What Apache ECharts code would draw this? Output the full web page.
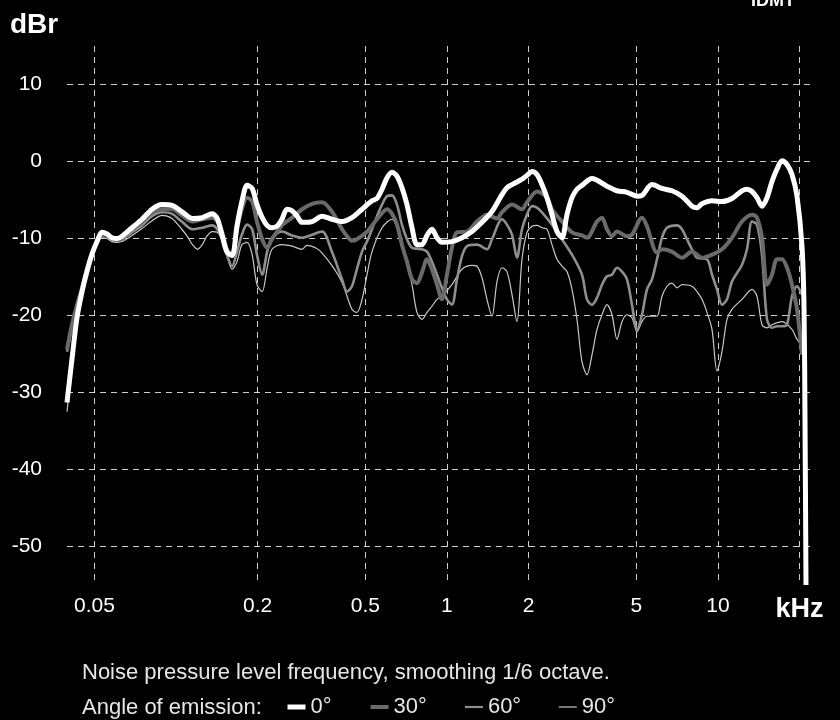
<!DOCTYPE html>
<html>
<head>
<meta charset="utf-8">
<script src="https://cdn.jsdelivr.net/npm/echarts@6.0.0/dist/echarts.min.js"></script>
<style>
html, body { margin: 0; padding: 0; background: #000; }
#chart { width: 840px; height: 720px; }
</style>
</head>
<body>
<div id="chart"></div>
<script>
var chart = echarts.init(document.getElementById('chart'));
var FONT = '"Liberation Sans", Arial, sans-serif';

// frequency in Hz, level in dBr
var freq0 = [39.6, 41.3, 43.1, 45, 46.9, 48.9, 51.1, 53.3, 55.6, 58, 60.6, 63.2, 68.8, 74.9, 81.6, 88.8, 96.7, 105, 115, 125,
  136, 142, 148, 154, 161, 168, 175, 183, 191, 199, 208, 217, 226, 236, 246, 257, 268, 280, 292, 318,
  346, 376, 410, 446, 486, 529, 552, 576, 601, 627, 654, 682, 712, 743, 775, 809, 844, 880, 919, 958,
  1043, 1136, 1237, 1347, 1466, 1596, 1665, 1738, 1892, 1974, 2060, 2149, 2242, 2340, 2441, 2547, 2658, 2773, 2894, 3019,
  3150, 3430, 3896, 4242, 4618, 5028, 5246, 5711, 6218, 6769, 7370, 8023, 8372, 8735, 9510, 10353, 11271, 12271, 12804, 13359,
  13940, 14545, 15177, 15835, 16523, 17240, 17989, 18769, 19585, 20433, 20786, 20963, 21142];
var level0 = [-31.3, -25.7, -20.3, -16.9, -14.3, -12.1, -10.4, -9.2, -9.4, -9.9, -10.0, -9.7, -8.6, -7.5, -6.2, -5.6, -5.7, -6.5, -7.4, -7.3,
  -6.8, -7.4, -9.6, -11.7, -12.2, -8.3, -5.2, -3.1, -3.5, -5.6, -7.3, -8.3, -8.6, -8.4, -7.5, -6.2, -6.4, -7.1, -7.9, -7.8,
  -7.1, -7.5, -7.8, -7.3, -6.2, -5.1, -4.8, -3.6, -2.1, -1.4, -1.9, -3.4, -5.6, -8.6, -10.8, -10.8, -9.6, -8.8, -9.9, -10.5,
  -10.4, -9.9, -9.1, -7.9, -6.5, -4.3, -3.4, -3.0, -2.3, -1.8, -1.3, -1.7, -3.0, -4.7, -6.9, -9.1, -9.9, -6.9, -4.7, -3.6,
  -3.1, -2.2, -3.2, -3.8, -4.0, -4.5, -4.4, -3.0, -3.5, -3.8, -4.5, -5.8, -6.0, -5.5, -5.1, -5.2, -4.8, -3.8, -3.6, -3.9,
  -4.7, -5.8, -4.7, -2.6, -1.0, 0.1, -0.4, -1.7, -4.5, -11.0, -18.8, -33.5, -55];

var freq30 = [39.6, 41.3, 43.1, 45, 46.9, 48.9, 51.1, 53.3, 55.6, 58, 60.6, 63.2, 68.8, 74.9, 81.6, 88.8, 96.7, 105, 115, 125,
  136, 142, 148, 154, 161, 168, 175, 183, 191, 199, 208, 217, 226, 246, 268, 292, 318, 346, 376, 410,
  428, 446, 465, 507, 552, 601, 627, 654, 682, 712, 743, 775, 809, 844, 880, 919, 958, 1000, 1043, 1089,
  1185, 1291, 1405, 1530, 1596, 1738, 1892, 1974, 2149, 2340, 2441, 2658, 2894, 3150, 3287, 3579, 3734, 3896, 4065, 4242,
  4618, 4818, 5246, 5473, 5959, 6218, 6769, 7370, 8023, 8735, 9510, 10353, 11271, 12271, 13359, 13940, 14545, 15177, 15835, 16523,
  17240, 17989, 18769, 19585, 20433];
var level30 = [-24.4, -21.2, -18.6, -16.4, -14.0, -12.1, -10.5, -9.5, -9.6, -10.0, -10.1, -9.9, -8.8, -7.8, -6.6, -6.2, -6.2, -7.0, -7.8, -7.5,
  -7.3, -7.8, -9.1, -11.4, -12.3, -8.8, -6.2, -4.7, -5.2, -7.8, -10.1, -11.2, -10.1, -8.3, -7.3, -6.2, -5.5, -5.3, -6.5, -8.8,
  -9.7, -10.3, -10.1, -9.1, -7.5, -6.2, -6.8, -8.2, -10.8, -13.0, -15.3, -15.8, -14.4, -12.7, -14.0, -16.0, -17.9, -14.7, -11.2, -9.2,
  -9.1, -7.8, -6.9, -7.4, -6.6, -5.6, -6.2, -5.3, -3.9, -4.7, -6.2, -7.8, -9.2, -9.6, -9.9, -7.8, -7.3, -8.8, -9.7, -9.1,
  -9.7, -9.5, -7.3, -8.4, -11.8, -11.4, -11.7, -12.5, -11.7, -12.5, -12.1, -11.4, -9.9, -7.8, -6.9, -7.3, -9.9, -16.0, -14.7, -12.7,
  -12.7, -13.8, -16.0, -19.2, -25.1];

var freq60 = [39.6, 41.3, 43.1, 45, 46.9, 48.9, 51.1, 53.3, 55.6, 58, 60.6, 63.2, 68.8, 74.9, 81.6, 88.8, 96.7, 105, 115, 125,
  136, 142, 148, 154, 161, 168, 175, 183, 191, 199, 208, 217, 226, 246, 268, 292, 318, 346, 376, 410,
  428, 446, 465, 486, 507, 529, 552, 576, 601, 627, 654, 682, 712, 743, 809, 844, 880, 919, 958, 1000,
  1043, 1089, 1136, 1185, 1291, 1405, 1466, 1596, 1665, 1738, 1813, 1892, 1974, 2060, 2149, 2242, 2441, 2658, 2894, 3150,
  3287, 3430, 3579, 3734, 3896, 4065, 4242, 4426, 4618, 4818, 5028, 5246, 5473, 5711, 5959, 6218, 6488, 7063, 7370, 7689,
  8023, 8372, 9114, 9510, 9923, 10353, 10803, 11271, 12271, 12804, 13359, 13940, 14545, 15177, 15835, 16523, 17240, 17989, 18769, 19585,
  20433];
var level60 = [-24.7, -21.6, -18.7, -16.4, -14.2, -12.2, -10.6, -9.6, -9.7, -10.1, -10.3, -10.1, -9.2, -8.3, -7.1, -6.6, -6.8, -7.8, -8.8, -8.6,
  -8.3, -8.8, -10.1, -12.1, -13.6, -11.7, -9.5, -8.2, -8.8, -12.1, -14.7, -11.7, -9.9, -9.1, -9.6, -9.9, -9.5, -9.1, -11.7, -15.3,
  -16.9, -16.2, -14.0, -11.7, -10.4, -8.8, -7.1, -5.6, -4.5, -4.4, -5.6, -8.2, -10.1, -11.2, -11.4, -11.7, -13.0, -14.7, -16.4, -17.9,
  -18.6, -15.3, -12.3, -11.0, -10.8, -11.4, -10.1, -7.5, -8.2, -9.5, -12.5, -8.8, -6.9, -5.8, -6.0, -6.6, -8.2, -10.1, -12.1, -14.7,
  -17.9, -18.6, -17.7, -16.0, -14.9, -14.7, -13.8, -14.3, -15.3, -18.6, -21.8, -19.9, -16.6, -15.3, -12.7, -9.9, -8.6, -8.3, -8.8, -10.1,
  -11.4, -12.5, -12.7, -14.7, -16.6, -18.6, -17.9, -15.6, -13.4, -11.4, -7.8, -8.2, -12.1, -20.5, -21.6, -21.4, -21.4, -21.2, -17.5, -16.2,
  -17.3];

var freq90 = [39.6, 41.3, 43.1, 45, 46.9, 48.9, 51.1, 53.3, 55.6, 58, 60.6, 63.2, 68.8, 74.9, 81.6, 88.8, 96.7, 105, 110, 115,
  120, 125, 130, 136, 142, 148, 154, 161, 168, 175, 183, 191, 199, 208, 217, 226, 246, 268, 292, 304,
  331, 346, 376, 410, 446, 465, 486, 507, 529, 576, 627, 654, 682, 712, 743, 775, 809, 844, 880, 919,
  958, 1043, 1136, 1237, 1291, 1347, 1405, 1466, 1530, 1596, 1665, 1738, 1813, 1892, 1974, 2060, 2149, 2242, 2340, 2441,
  2547, 2658, 2773, 2894, 3019, 3150, 3287, 3430, 3579, 3734, 3896, 4065, 4242, 4426, 4618, 4818, 5028, 5246, 5473, 5711,
  5959, 6218, 6488, 6769, 7063, 7370, 8023, 8372, 8735, 9114, 9510, 9923, 10353, 10803, 11271, 12271, 13359, 13940, 14545, 15177,
  15835, 17240, 18769, 19585, 20433];
var level90 = [-32.5, -26.4, -20.5, -16.9, -14.3, -12.3, -10.8, -9.9, -10.0, -10.4, -10.5, -10.4, -9.6, -8.7, -7.7, -7.0, -7.4, -8.8, -9.7, -10.8,
  -11.4, -10.8, -9.7, -9.1, -9.2, -10.1, -12.1, -14.0, -13.0, -10.8, -10.5, -12.1, -16.0, -16.9, -13.8, -11.4, -10.8, -11.0, -11.4, -10.9,
  -11.3, -11.9, -13.5, -15.7, -19.2, -19.6, -17.9, -14.7, -11.7, -8.6, -7.5, -8.6, -10.8, -13.1, -16.0, -19.6, -20.5, -19.6, -18.8, -17.9,
  -17.5, -16.0, -14.0, -13.5, -13.6, -15.1, -17.9, -20.1, -15.6, -13.8, -14.3, -17.3, -20.8, -12.7, -9.2, -8.4, -8.3, -8.6, -8.8, -10.8,
  -12.7, -13.6, -14.3, -16.6, -20.5, -26.0, -27.7, -25.1, -21.8, -19.9, -18.6, -19.9, -23.1, -20.8, -19.9, -20.3, -22.1, -20.8, -20.1, -20.1,
  -20.1, -17.5, -16.2, -15.8, -16.4, -16.0, -16.2, -16.9, -17.9, -19.6, -21.8, -27.2, -24.7, -20.5, -19.2, -17.9, -16.6, -17.5, -21.2, -21.6,
  -21.2, -20.8, -21.8, -23.1, -23.8];

var xTicks = [0.05, 0.2, 0.5, 1, 2, 5, 10, 20]; // kHz
var yTicks = [-50, -40, -30, -20, -10, 0, 10];

function toPoints(freq, level) {
  var out = [];
  for (var i = 0; i < freq.length; i++) {
    out.push([Math.log10(freq[i] / 1000), level[i]]);
  }
  return out;
}

var xTickPos = xTicks.map(function (v) { return Math.log10(v); });
var gridLine = { color: 'rgba(255,255,255,0.8)', width: 1, type: [6, 5] };
var noSymbol = { color: 'rgba(0,0,0,0)', borderColor: 'rgba(0,0,0,0)', borderWidth: 0 };

var option = {
  backgroundColor: '#000',
  animation: false,
  textStyle: { fontFamily: FONT },
  grid: { left: 67, right: 29, top: 46, bottom: 135 },
  xAxis: {
    type: 'value',
    min: Math.log10(0.0396),
    max: Math.log10(22.06),
    axisLine: { show: false },
    axisTick: { show: false, customValues: xTickPos },
    axisLabel: {
      customValues: xTickPos,
      color: '#fff',
      fontSize: 21,
      fontFamily: FONT,
      margin: 11,
      formatter: function (v) {
        var k = Math.round(Math.pow(10, v) * 100) / 100;
        return k === 20 ? '{u|kHz}' : String(k);
      },
      rich: { u: { fontSize: 27, fontWeight: 'bold', color: '#fff', fontFamily: FONT } }
    },
    splitLine: { show: true, lineStyle: gridLine }
  },
  yAxis: {
    type: 'value',
    min: -55,
    max: 15,
    axisLine: { show: false },
    axisTick: { show: false, customValues: yTicks },
    axisLabel: { customValues: yTicks, color: '#fff', fontSize: 21, fontFamily: FONT, margin: 25 },
    splitLine: { show: true, lineStyle: gridLine }
  },
  legend: {
    left: 280,
    top: 691,
    itemWidth: 18,
    itemHeight: 14,
    itemGap: 37,
    selectedMode: false,
    textStyle: { color: '#e6e6e6', fontSize: 22, fontFamily: FONT },
    data: [
      { name: '0°', itemStyle: noSymbol, lineStyle: { width: 5, color: '#ffffff' } },
      { name: '30°', itemStyle: noSymbol, lineStyle: { width: 4, color: '#6a6a6a' } },
      { name: '60°', itemStyle: noSymbol, lineStyle: { width: 2.2, color: '#8e8e8e' } },
      { name: '90°', itemStyle: noSymbol, lineStyle: { width: 1.2, color: '#c8c8c8' } }
    ]
  },
  graphic: [
    { type: 'text', left: 10, top: 11, style: { text: 'dBr', font: 'bold 28px ' + FONT, fill: '#fff' } },
    { type: 'text', left: 751, top: -8, style: { text: 'IDMT', font: 'bold 18px ' + FONT, fill: '#fff' } },
    { type: 'text', x: 82, y: 673, style: { text: 'Noise pressure level frequency, smoothing 1/6 octave.', font: '22px ' + FONT, fill: '#e6e6e6', verticalAlign: 'middle' } },
    { type: 'text', x: 82, y: 708, style: { text: 'Angle of emission:', font: '22px ' + FONT, fill: '#e6e6e6', verticalAlign: 'middle' } }
  ],
  series: [
    { name: '90°', type: 'line', data: toPoints(freq90, level90), symbol: 'none', smooth: 0.3, color: '#c8c8c8', lineStyle: { color: '#c8c8c8', width: 1.2 } },
    { name: '60°', type: 'line', data: toPoints(freq60, level60), symbol: 'none', smooth: 0.3, color: '#8e8e8e', lineStyle: { color: '#8e8e8e', width: 2.6 } },
    { name: '30°', type: 'line', data: toPoints(freq30, level30), symbol: 'none', smooth: 0.3, color: '#6a6a6a', lineStyle: { color: '#6a6a6a', width: 4 } },
    { name: '0°', type: 'line', data: toPoints(freq0, level0), symbol: 'none', smooth: 0.3, color: '#ffffff', lineStyle: { color: '#ffffff', width: 5 } }
  ]
};

chart.setOption(option);
</script>
</body>
</html>
